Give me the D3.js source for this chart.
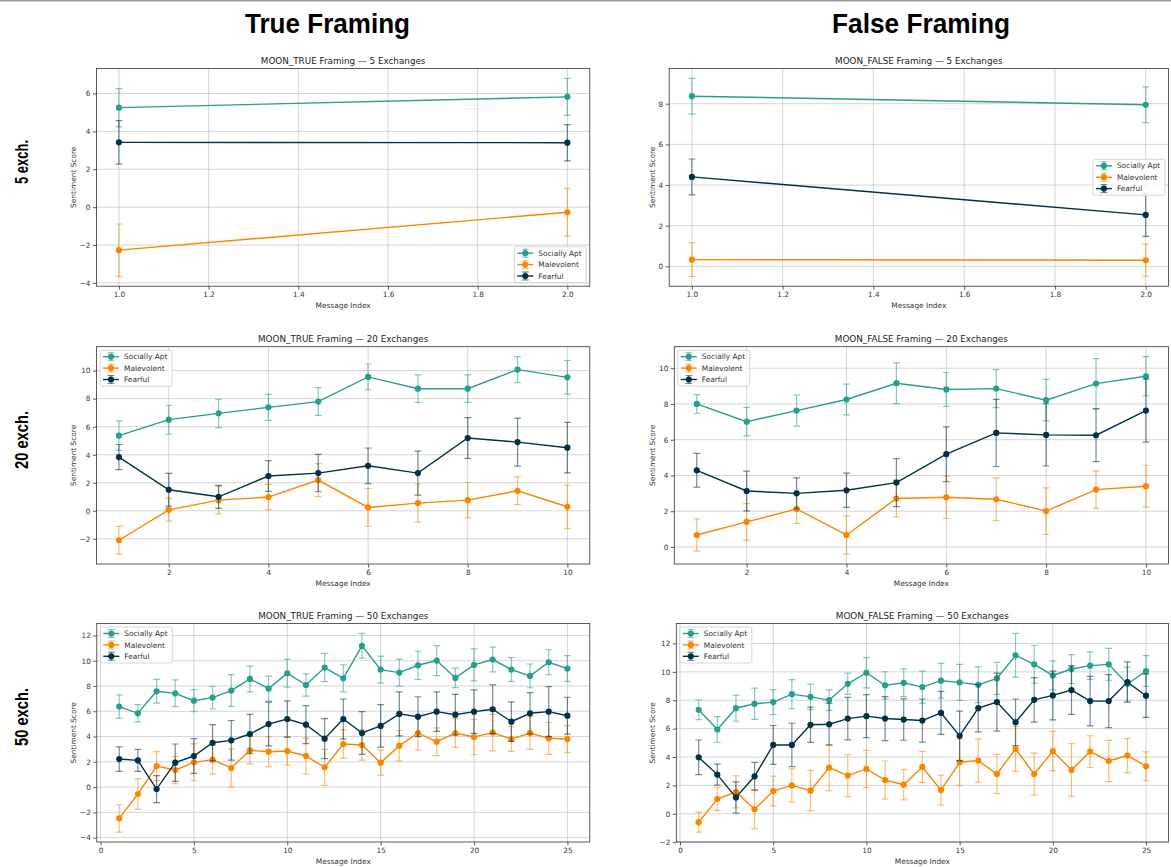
<!DOCTYPE html>
<html>
<head>
<meta charset="utf-8">
<script src="https://cdn.jsdelivr.net/npm/d3@7"></script>
<style>
  body { margin: 0; background: #fff; }
  svg { display: block; font-family: "DejaVu Sans", sans-serif; }
</style>
</head>
<body>
<svg id="fig" width="1171" height="867"></svg>
<script>
// ---------------- series definitions ----------------
const seriesNames = ["Socially Apt", "Malevolent", "Fearful"];
const seriesColors = ["#2a9d8f", "#fb8500", "#023047"];

const columnHeaders = ["True Framing", "False Framing"];
const rowHeaders = ["5 exch.", "20 exch.", "50 exch."];

// message indices
const msgIdx5 = [1, 2];
const msgIdx20 = [1, 2, 3, 4, 5, 6, 7, 8, 9, 10];
const msgIdx50 = [1, 2, 3, 4, 5, 6, 7, 8, 9, 10, 11, 12, 13, 14, 15, 16, 17, 18, 19, 20, 21, 22, 23, 24, 25];

// tick labels
const xTicks5 = [1.0, 1.2, 1.4, 1.6, 1.8, 2.0];
const xTicks20 = [2, 4, 6, 8, 10];
const xTicks50 = [0, 5, 10, 15, 20, 25];
const yTicksT5 = [-4, -2, 0, 2, 4, 6];
const yTicksF5 = [0, 2, 4, 6, 8];
const yTicksT20 = [-2, 0, 2, 4, 6, 8, 10];
const yTicksF20 = [0, 2, 4, 6, 8, 10];
const yTicksT50 = [-4, -2, 0, 2, 4, 6, 8, 10, 12];
const yTicksF50 = [-2, 0, 2, 4, 6, 8, 10, 12];

// MOON_TRUE, 5 exchanges (mean, std)
const t5Apt = [5.25, 5.82];
const t5AptSd = [1.01, 0.98];
const t5Mal = [-2.27, -0.27];
const t5MalSd = [1.38, 1.26];
const t5Fear = [3.42, 3.40];
const t5FearSd = [1.15, 0.96];

// MOON_FALSE, 5 exchanges
const f5Apt = [8.37, 7.95];
const f5AptSd = [0.88, 0.88];
const f5Mal = [0.33, 0.30];
const f5MalSd = [0.82, 0.79];
const f5Fear = [4.40, 2.53];
const f5FearSd = [0.88, 1.06];

// MOON_TRUE, 20 exchanges
const t20Apt = [5.36, 6.50, 6.95, 7.38, 7.79, 9.55, 8.71, 8.71, 10.07, 9.52];
const t20AptSd = [1.05, 1.03, 1.02, 0.93, 0.99, 0.92, 0.98, 0.98, 0.93, 1.20];
const t20Mal = [-2.10, 0.07, 0.76, 0.98, 2.19, 0.24, 0.55, 0.76, 1.43, 0.29];
const t20MalSd = [0.99, 0.81, 0.98, 0.90, 1.18, 1.35, 1.36, 1.26, 0.99, 1.55];
const t20Fear = [3.83, 1.50, 1.00, 2.48, 2.69, 3.21, 2.69, 5.19, 4.90, 4.50];
const t20FearSd = [0.90, 1.17, 0.82, 1.10, 1.33, 1.27, 1.57, 1.45, 1.71, 1.80];

// MOON_FALSE, 20 exchanges
const f20Apt = [8.00, 7.01, 7.63, 8.25, 9.16, 8.81, 8.86, 8.21, 9.14, 9.55];
const f20AptSd = [0.52, 0.80, 0.87, 0.86, 1.14, 0.95, 1.06, 1.16, 1.40, 1.10];
const f20Mal = [0.67, 1.40, 2.13, 0.67, 2.71, 2.78, 2.67, 2.01, 3.21, 3.40];
const f20MalSd = [0.90, 1.03, 0.82, 1.07, 1.03, 1.18, 1.20, 1.30, 1.05, 1.17];
const f20Fear = [4.29, 3.13, 3.00, 3.17, 3.60, 5.19, 6.38, 6.27, 6.25, 7.63];
const f20FearSd = [0.94, 1.11, 0.87, 0.96, 1.34, 1.53, 1.88, 1.74, 1.48, 1.76];

// MOON_TRUE, 50 exchanges
const t50Apt = [6.37, 5.84, 7.58, 7.42, 6.84, 7.08, 7.64, 8.56, 7.79, 9.01, 8.08, 9.46, 8.61, 11.18, 9.30, 9.06, 9.64, 10.01, 8.64, 9.67, 10.09, 9.30, 8.80, 9.88, 9.38];
const t50AptSd = [0.93, 0.68, 0.94, 1.06, 0.88, 0.90, 1.26, 1.02, 0.99, 1.11, 0.88, 1.12, 1.07, 0.98, 1.07, 1.07, 1.11, 1.19, 0.77, 1.27, 0.98, 0.94, 0.94, 0.99, 1.02];
const t50Mal = [-2.48, -0.55, 1.66, 1.35, 1.96, 2.17, 1.51, 2.91, 2.80, 2.85, 2.46, 1.56, 3.41, 3.33, 1.93, 3.28, 4.28, 3.59, 4.28, 3.96, 4.31, 3.80, 4.28, 3.86, 3.80];
const t50MalSd = [1.08, 1.22, 1.15, 1.07, 1.46, 1.13, 1.50, 1.08, 1.19, 1.10, 1.42, 1.43, 1.14, 1.20, 0.99, 1.20, 1.36, 1.10, 1.13, 1.40, 1.44, 0.98, 1.30, 1.27, 1.06];
const t50Fear = [2.22, 2.11, -0.16, 1.93, 2.46, 3.51, 3.70, 4.20, 4.99, 5.39, 4.94, 3.83, 5.39, 4.28, 4.84, 5.79, 5.57, 5.97, 5.73, 5.97, 6.16, 5.18, 5.84, 5.97, 5.65];
const t50FearSd = [0.97, 0.87, 1.07, 1.48, 1.37, 1.44, 1.57, 1.56, 1.73, 1.43, 1.50, 1.58, 1.58, 1.69, 1.68, 1.74, 1.58, 1.56, 1.61, 1.72, 1.93, 1.56, 1.64, 1.98, 1.46];

// MOON_FALSE, 50 exchanges
const f50Apt = [7.33, 5.94, 7.44, 7.75, 7.87, 8.43, 8.24, 8.01, 9.16, 9.94, 9.05, 9.23, 8.93, 9.38, 9.26, 9.09, 9.54, 11.17, 10.53, 9.75, 10.20, 10.44, 10.53, 9.14, 10.06];
const f50AptSd = [0.69, 0.90, 0.92, 1.10, 0.88, 1.03, 0.90, 0.72, 0.75, 1.07, 0.96, 0.98, 1.13, 1.22, 1.27, 1.26, 1.13, 1.54, 1.33, 1.02, 1.02, 0.97, 1.12, 1.20, 1.08];
const f50Mal = [-0.59, 1.04, 1.55, 0.31, 1.60, 2.00, 1.63, 3.25, 2.69, 3.16, 2.38, 2.05, 3.30, 1.67, 3.63, 3.75, 2.80, 4.57, 2.80, 4.41, 3.09, 4.38, 3.72, 4.10, 3.35];
const f50MalSd = [0.70, 0.82, 1.13, 1.37, 1.05, 1.17, 1.43, 1.63, 1.47, 1.31, 1.34, 1.07, 1.10, 1.05, 1.64, 1.53, 1.38, 1.58, 1.48, 1.39, 1.86, 1.12, 1.45, 1.20, 1.01];
const f50Fear = [3.98, 2.76, 1.15, 2.64, 4.85, 4.85, 6.27, 6.31, 6.71, 6.88, 6.71, 6.64, 6.57, 7.11, 5.49, 7.44, 7.87, 6.45, 8.03, 8.34, 8.72, 7.94, 7.94, 9.28, 8.32];
const f50FearSd = [1.22, 0.74, 1.10, 0.98, 1.37, 1.53, 1.24, 1.47, 1.50, 1.52, 1.55, 1.46, 1.52, 1.52, 1.74, 1.67, 2.04, 1.64, 1.57, 1.72, 1.72, 1.74, 1.87, 1.42, 1.52];

// ---------------- panel table ----------------
const panels = [
  { title: "MOON_TRUE Framing — 5 Exchanges", x: msgIdx5, xTicks: xTicks5, yTicks: yTicksT5, xFmt: d3.format(".1f"),
    means: [t5Apt, t5Mal, t5Fear], sds: [t5AptSd, t5MalSd, t5FearSd], legend: "lower right" },
  { title: "MOON_FALSE Framing — 5 Exchanges", x: msgIdx5, xTicks: xTicks5, yTicks: yTicksF5, xFmt: d3.format(".1f"),
    means: [f5Apt, f5Mal, f5Fear], sds: [f5AptSd, f5MalSd, f5FearSd], legend: "center right" },
  { title: "MOON_TRUE Framing — 20 Exchanges", x: msgIdx20, xTicks: xTicks20, yTicks: yTicksT20, xFmt: d3.format("d"),
    means: [t20Apt, t20Mal, t20Fear], sds: [t20AptSd, t20MalSd, t20FearSd], legend: "upper left" },
  { title: "MOON_FALSE Framing — 20 Exchanges", x: msgIdx20, xTicks: xTicks20, yTicks: yTicksF20, xFmt: d3.format("d"),
    means: [f20Apt, f20Mal, f20Fear], sds: [f20AptSd, f20MalSd, f20FearSd], legend: "upper left" },
  { title: "MOON_TRUE Framing — 50 Exchanges", x: msgIdx50, xTicks: xTicks50, yTicks: yTicksT50, xFmt: d3.format("d"),
    means: [t50Apt, t50Mal, t50Fear], sds: [t50AptSd, t50MalSd, t50FearSd], legend: "upper left" },
  { title: "MOON_FALSE Framing — 50 Exchanges", x: msgIdx50, xTicks: xTicks50, yTicks: yTicksF50, xFmt: d3.format("d"),
    means: [f50Apt, f50Mal, f50Fear], sds: [f50AptSd, f50MalSd, f50FearSd], legend: "upper left" }
];

// ---------------- layout ----------------
const rowTop = [68.4, 346.7, 623.5];
const rowBottom = [286.2, 564, 842];
const colLeft = [[96.5, 669.2], [96.5, 674.3], [96.8, 676.3]];
const colRight = [589.8, 1168.4];
const yLabelX = [73, 652];
const fs = { title: 8.8, label: 7.4, tick: 7.3, legend: 7.4 };

const svg = d3.select("#fig");
svg.append("rect").attr("x", 0).attr("y", 0).attr("width", 1171).attr("height", 867).attr("fill", "#fff");
svg.append("rect").attr("x", 0).attr("y", 0).attr("width", 1171).attr("height", 1.5).attr("fill", "#9a9a9a");

// column headers
const headerX = [327.5, 921];
columnHeaders.forEach((t, i) => {
  svg.append("text")
    .attr("x", headerX[i]).attr("y", 33)
    .attr("text-anchor", "middle")
    .style("font-family", "'Liberation Sans', Arial, sans-serif")
    .style("font-weight", "bold").style("font-size", "28px")
    .attr("textLength", i === 0 ? 165 : 178).attr("lengthAdjust", "spacingAndGlyphs")
    .attr("fill", "#000").text(t);
});

// row headers
const rowHeaderY = [162, 440, 717];
const rowHeaderLen = [44, 58, 58];
rowHeaders.forEach((t, i) => {
  svg.append("text")
    .attr("transform", `translate(28,${rowHeaderY[i]}) rotate(-90)`)
    .attr("text-anchor", "middle")
    .style("font-family", "'Liberation Sans', Arial, sans-serif")
    .style("font-weight", "bold").style("font-size", "19px")
    .attr("textLength", rowHeaderLen[i]).attr("lengthAdjust", "spacingAndGlyphs")
    .attr("fill", "#000").text(t);
});

panels.forEach((p, k) => {
  const row = Math.floor(k / 2), col = k % 2;
  const box = { left: colLeft[row][col], right: colRight[col], top: rowTop[row], bottom: rowBottom[row] };
  drawPanel(p, box, col);
});

function drawPanel(p, box, col) {
  const g = svg.append("g");

  // autoscale with 5% margins, error bars included
  const xExt = d3.extent(p.x);
  const xPad = (xExt[1] - xExt[0]) * 0.05;
  const x = d3.scaleLinear().domain([xExt[0] - xPad, xExt[1] + xPad]).range([box.left, box.right]);
  const lo = d3.min(p.means, (m, s) => d3.min(m, (v, i) => v - p.sds[s][i]));
  const hi = d3.max(p.means, (m, s) => d3.max(m, (v, i) => v + p.sds[s][i]));
  const yPad = (hi - lo) * 0.05;
  const y = d3.scaleLinear().domain([lo - yPad, hi + yPad]).range([box.bottom, box.top]);

  // grid
  const grid = g.append("g").attr("stroke", "#b0b0b0").attr("stroke-opacity", 0.6).attr("stroke-width", 0.9);
  grid.selectAll(".gx").data(p.xTicks.filter(t => x(t) >= box.left && x(t) <= box.right)).join("line")
    .attr("x1", d => x(d)).attr("x2", d => x(d)).attr("y1", box.top).attr("y2", box.bottom);
  grid.selectAll(".gy").data(p.yTicks).join("line")
    .attr("x1", box.left).attr("x2", box.right).attr("y1", d => y(d)).attr("y2", d => y(d));

  // axes
  const xAxis = g.append("g").attr("transform", `translate(0,${box.bottom})`)
    .call(d3.axisBottom(x).tickValues(p.xTicks).tickFormat(p.xFmt).tickSize(3.5).tickPadding(2.5).tickSizeOuter(0));
  const yAxis = g.append("g").attr("transform", `translate(${box.left},0)`)
    .call(d3.axisLeft(y).tickValues(p.yTicks).tickSize(3.5).tickPadding(2.5).tickSizeOuter(0));
  [xAxis, yAxis].forEach(a => {
    a.select(".domain").remove();
    a.selectAll("line").attr("stroke", "#333").attr("stroke-width", 0.8);
    a.selectAll("text").attr("fill", "#333").style("font-size", fs.tick + "px")
      .style("font-family", "'DejaVu Sans', sans-serif");
  });

  // series
  const clipId = "clip" + Math.round(box.left) + "_" + Math.round(box.top);
  g.append("clipPath").attr("id", clipId).append("rect")
    .attr("x", box.left).attr("y", box.top).attr("width", box.right - box.left).attr("height", box.bottom - box.top);
  const plot = g.append("g").attr("clip-path", `url(#${clipId})`);
  const capHalf = 3.4;
  p.means.forEach((m, s) => {
    const color = seriesColors[s];
    const pts = m.map((v, i) => ({ x: p.x[i], y: v, sd: p.sds[s][i] }));
    const eb = plot.append("g").attr("stroke", color).attr("stroke-opacity", 0.55).attr("stroke-width", 1.2);
    eb.selectAll(".bar").data(pts).join("line")
      .attr("x1", d => x(d.x)).attr("x2", d => x(d.x)).attr("y1", d => y(d.y - d.sd)).attr("y2", d => y(d.y + d.sd));
    eb.selectAll(".capT").data(pts).join("line")
      .attr("x1", d => x(d.x) - capHalf).attr("x2", d => x(d.x) + capHalf).attr("y1", d => y(d.y + d.sd)).attr("y2", d => y(d.y + d.sd));
    eb.selectAll(".capB").data(pts).join("line")
      .attr("x1", d => x(d.x) - capHalf).attr("x2", d => x(d.x) + capHalf).attr("y1", d => y(d.y - d.sd)).attr("y2", d => y(d.y - d.sd));
    plot.append("path").datum(pts)
      .attr("fill", "none").attr("stroke", color).attr("stroke-width", 1.4)
      .attr("d", d3.line().x(d => x(d.x)).y(d => y(d.y)));
    plot.append("g").selectAll("circle").data(pts).join("circle")
      .attr("cx", d => x(d.x)).attr("cy", d => y(d.y)).attr("r", 3.1).attr("fill", color);
  });

  // frame
  g.append("rect").attr("x", box.left).attr("y", box.top)
    .attr("width", box.right - box.left).attr("height", box.bottom - box.top)
    .attr("fill", "none").attr("stroke", "#333").attr("stroke-width", 0.8);

  // legend
  const lw = 72, lh = 36, pad = 3.5, step = 11.4;
  let lx, ly;
  if (p.legend === "upper left") { lx = box.left + pad; ly = box.top + pad; }
  else if (p.legend === "lower right") { lx = box.right - pad - lw; ly = box.bottom - pad - lh; }
  else { lx = box.right - pad - lw; ly = (box.top + box.bottom) / 2 - lh / 2; }
  const lg = g.append("g").attr("transform", `translate(${lx},${ly})`);
  lg.append("rect").attr("width", lw).attr("height", lh).attr("rx", 2)
    .attr("fill", "#fff").attr("fill-opacity", 0.8).attr("stroke", "#cccccc").attr("stroke-width", 0.8);
  seriesNames.forEach((name, s) => {
    const cy = 6.5 + s * step;
    const c = seriesColors[s];
    const e = lg.append("g").attr("stroke", c).attr("stroke-opacity", 0.55).attr("stroke-width", 1.2);
    e.append("line").attr("x1", 11).attr("x2", 11).attr("y1", cy - 4).attr("y2", cy + 4);
    e.append("line").attr("x1", 11 - capHalf).attr("x2", 11 + capHalf).attr("y1", cy - 4).attr("y2", cy - 4);
    e.append("line").attr("x1", 11 - capHalf).attr("x2", 11 + capHalf).attr("y1", cy + 4).attr("y2", cy + 4);
    lg.append("line").attr("x1", 3).attr("x2", 19).attr("y1", cy).attr("y2", cy).attr("stroke", c).attr("stroke-width", 1.4);
    lg.append("circle").attr("cx", 11).attr("cy", cy).attr("r", 3.1).attr("fill", c);
    lg.append("text").attr("x", 24).attr("y", cy + 2.7).style("font-size", fs.legend + "px")
      .attr("fill", "#333").text(name);
  });

  // title and axis labels
  g.append("text").attr("x", (box.left + box.right) / 2).attr("y", box.top - 4.5)
    .attr("text-anchor", "middle").style("font-size", fs.title + "px").attr("fill", "#222").text(p.title);
  g.append("text").attr("x", (box.left + box.right) / 2).attr("y", box.bottom + 21.5)
    .attr("text-anchor", "middle").style("font-size", fs.label + "px").attr("fill", "#333").text("Message Index");
  g.append("text").attr("transform", `translate(${yLabelX[col] + 2.7},${(box.top + box.bottom) / 2}) rotate(-90)`)
    .attr("text-anchor", "middle").style("font-size", fs.label + "px").attr("fill", "#333").text("Sentiment Score");
}
</script>
</body>
</html>
